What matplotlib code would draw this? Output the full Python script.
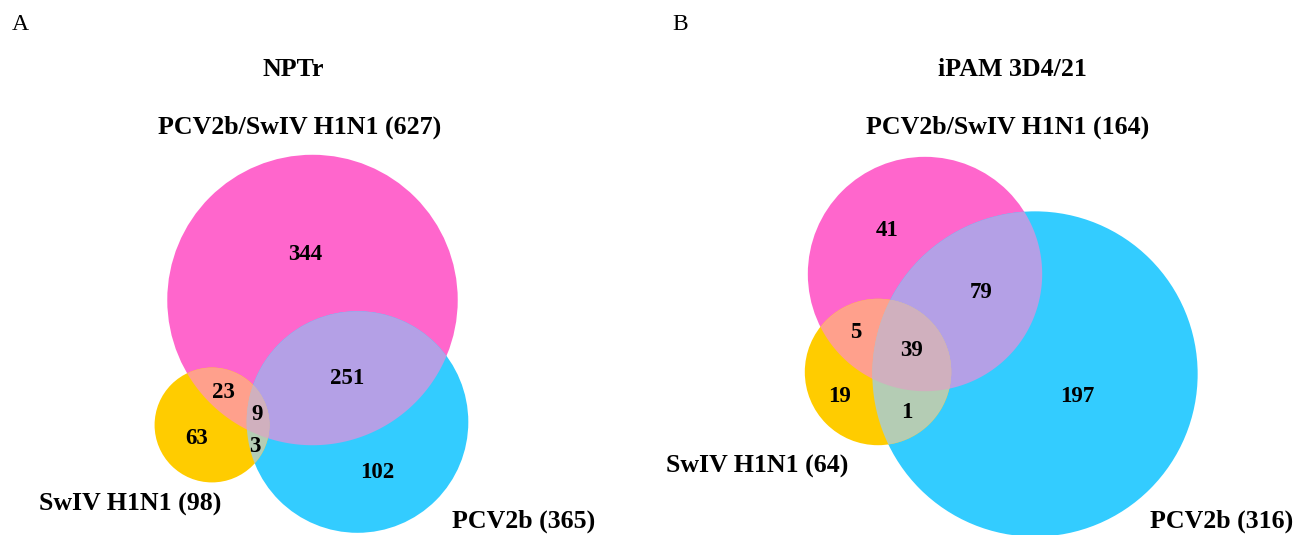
import numpy as np
import matplotlib
matplotlib.use("Agg")
import matplotlib.pyplot as plt
from matplotlib.patches import Circle, Polygon

plt.rcParams['font.family'] = ['Liberation Serif', 'DejaVu Serif']

# region counts: only co-infection, only PCV2b, only SwIV, co+PCV2b, co+SwIV, PCV2b+SwIV, all three
regioes = ['co', 'pcv', 'swiv', 'co_pcv', 'co_swiv', 'pcv_swiv', 'todos']
nptr = [344, 102, 63, 251, 23, 3, 9]
ipam = [41, 197, 19, 79, 5, 1, 39]

nomes = ['PCV2b/SwIV H1N1', 'PCV2b', 'SwIV H1N1']
titulos = ['NPTr', 'iPAM 3D4/21']
letras = ['A', 'B']

# cores dos conjuntos e das sobreposicoes
cor_co = '#FF66CC'
cor_pcv = '#33CCFF'
cor_swiv = '#FFCC00'
cor_co_pcv = '#B4A0E6'
cor_co_swiv = '#FFA08C'
cor_pcv_swiv = '#B4CCB4'
cor_todos = '#D0B0BE'

# layout (pixels): centros dos circulos, escala do raio, posicoes dos textos
layout = [
    dict(centros=[(312.5, 300), (357.5, 422), (212, 425)], escala=5.8,
         letra=(20, 24), titulo=(293, 70),
         rotulos=[(300, 127), (524, 521), (130, 504)],
         numeros=[(305, 254), (377, 473), (197, 438), (347, 379),
                  (223, 393), (255, 447), (257, 415)]),
    dict(centros=[(925, 274), (1035, 374), (878, 372)], escala=9.15,
         letra=(680, 24), titulo=(1012, 70),
         rotulos=[(1008, 127), (1222, 521), (757, 466)],
         numeros=[(887, 230), (1077, 396), (840, 397), (981, 292),
                  (856, 333), (907, 412), (912, 350)]),
]

TAM_NUM = 16.5
TAM_ROT = 18.6


def totais(c):
    d = dict(zip(regioes, c))
    t_co = d['co'] + d['co_pcv'] + d['co_swiv'] + d['todos']
    t_pcv = d['pcv'] + d['co_pcv'] + d['pcv_swiv'] + d['todos']
    t_swiv = d['swiv'] + d['co_swiv'] + d['pcv_swiv'] + d['todos']
    return [t_co, t_pcv, t_swiv]


def intersecao(circulos):
    # poligono convexo da intersecao de varios circulos
    pts = []
    t = np.linspace(0, 2 * np.pi, 1500, endpoint=False)
    for (cx, cy, r) in circulos:
        p = np.column_stack([cx + r * np.cos(t), cy + r * np.sin(t)])
        dentro = np.ones(len(p), bool)
        for (ox, oy, orr) in circulos:
            dentro &= (p[:, 0] - ox) ** 2 + (p[:, 1] - oy) ** 2 <= orr ** 2 + 1e-6
        pts.append(p[dentro])
    pts = np.vstack(pts)
    m = pts.mean(axis=0)
    ang = np.arctan2(pts[:, 1] - m[1], pts[:, 0] - m[0])
    return pts[np.argsort(ang)]


fig = plt.figure(figsize=(13.08, 5.35), dpi=100)
ax = fig.add_axes([0, 0, 1, 1])
ax.set_xlim(0, 1308)
ax.set_ylim(535, 0)
ax.axis('off')

for dados, lay, titulo, letra in zip([nptr, ipam], layout, titulos, letras):
    tot = totais(dados)
    raios = [lay['escala'] * np.sqrt(v) for v in tot]
    circ = [(x, y, r) for (x, y), r in zip(lay['centros'], raios)]

    for (x, y, r), cor in zip(circ, [cor_co, cor_pcv, cor_swiv]):
        ax.add_patch(Circle((x, y), r, facecolor=cor, edgecolor='none'))

    pares = [((0, 1), cor_co_pcv), ((0, 2), cor_co_swiv), ((1, 2), cor_pcv_swiv)]
    for (i, j), cor in pares:
        ax.add_patch(Polygon(intersecao([circ[i], circ[j]]), closed=True,
                             facecolor=cor, edgecolor='none'))
    ax.add_patch(Polygon(intersecao(circ), closed=True, facecolor=cor_todos, edgecolor='none'))

    for valor, (x, y) in zip(dados, lay['numeros']):
        ax.text(x, y, str(valor), ha='center', va='center', fontsize=TAM_NUM, fontweight='bold')

    for nome, t, (x, y) in zip(nomes, tot, lay['rotulos']):
        ax.text(x, y, f'{nome} ({t})', ha='center', va='center', fontsize=TAM_ROT, fontweight='bold')

    ax.text(*lay['titulo'], titulo, ha='center', va='center', fontsize=TAM_ROT, fontweight='bold')
    ax.text(*lay['letra'], letra, ha='center', va='center', fontsize=17)

fig.savefig('out.png', dpi=100)
